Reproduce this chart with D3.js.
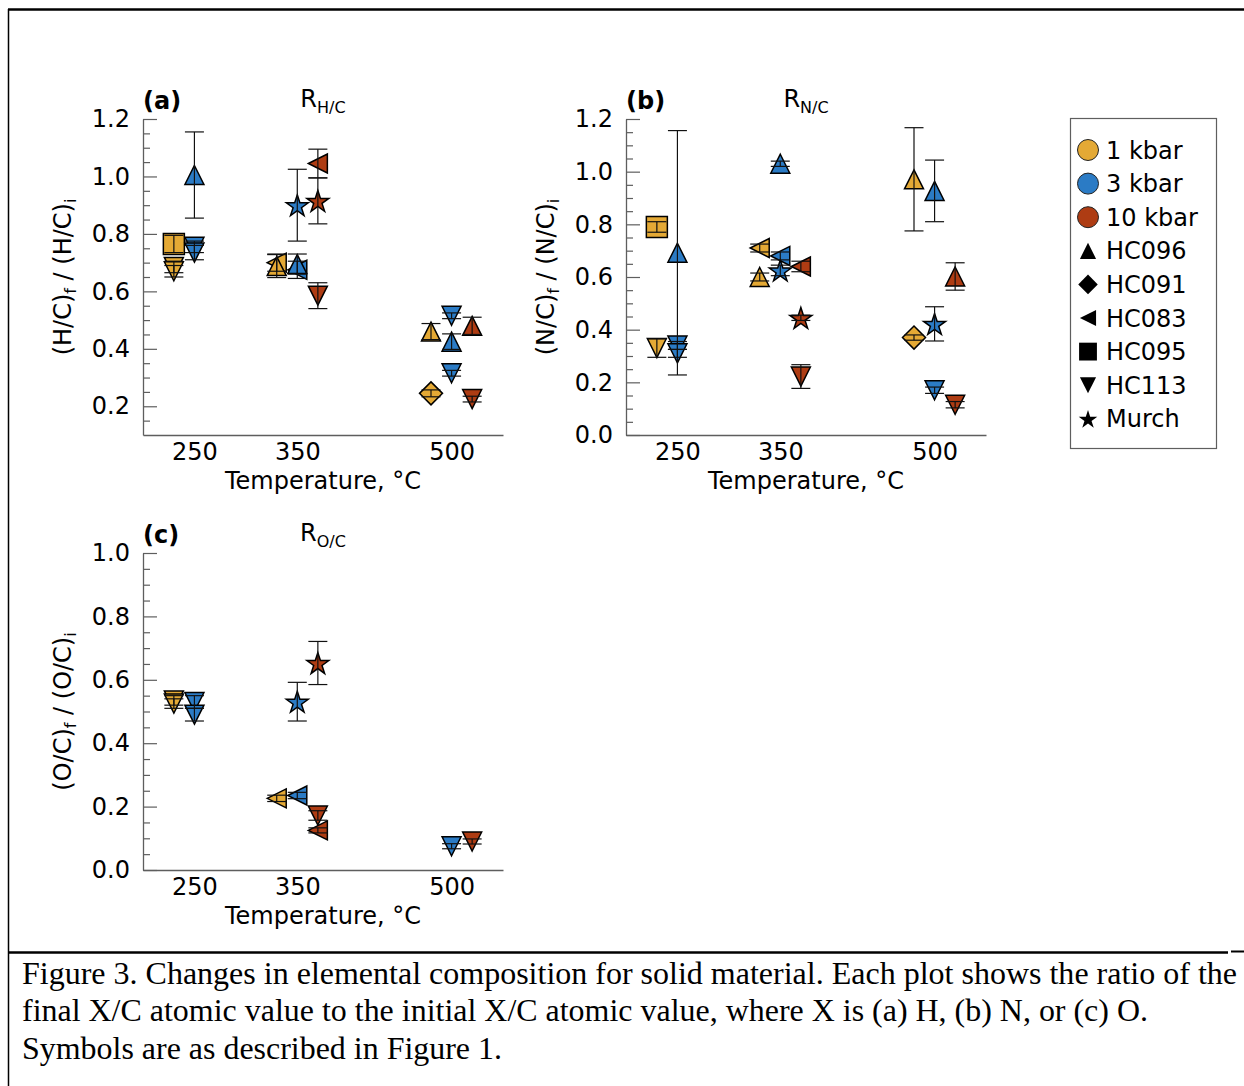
<!DOCTYPE html>
<html>
<head>
<meta charset="utf-8">
<script src="https://cdn.jsdelivr.net/npm/d3@7"></script>
<style>
  html, body { margin: 0; padding: 0; background: #fff; }
  svg { display: block; }
  text { font-family: "DejaVu Sans", sans-serif; fill: #000; }
</style>
</head>
<body>
<svg id="fig" width="1244" height="1086"></svg>
<script>
// ---- Data -------------------------------------------------------------
const pressures = ["1 kbar", "3 kbar", "10 kbar"];
const samples = ["HC096", "HC091", "HC083", "HC095", "HC113", "Murch"];
const tempTicks = [250, 350, 500];

// rows: [temperature °C, pressure, sample, ratio, error]
const ratioHC = [
  [250, "1 kbar", "HC095", 0.765, 0.03],
  [250, "1 kbar", "HC113", 0.685, 0.02],
  [250, "1 kbar", "HC113", 0.670, 0.02],
  [250, "3 kbar", "HC096", 1.005, 0.15],
  [250, "3 kbar", "HC113", 0.755, 0.02],
  [250, "3 kbar", "HC113", 0.735, 0.025],
  [350, "1 kbar", "HC083", 0.700, 0.03],
  [350, "1 kbar", "HC096", 0.688, 0.04],
  [350, "3 kbar", "HC083", 0.675, 0.03],
  [350, "3 kbar", "HC096", 0.695, 0.035],
  [350, "3 kbar", "Murch", 0.900, 0.125],
  [350, "10 kbar", "HC083", 1.045, 0.05],
  [350, "10 kbar", "Murch", 0.915, 0.08],
  [350, "10 kbar", "HC113", 0.585, 0.045],
  [500, "1 kbar", "HC096", 0.460, 0.028],
  [500, "1 kbar", "HC091", 0.245, 0.012],
  [500, "3 kbar", "HC113", 0.515, 0.01],
  [500, "3 kbar", "HC096", 0.425, 0.027],
  [500, "3 kbar", "HC113", 0.315, 0.01],
  [500, "10 kbar", "HC096", 0.480, 0.03],
  [500, "10 kbar", "HC113", 0.225, 0.01]
];

const ratioNC = [
  [250, "1 kbar", "HC095", 0.790, 0.02],
  [250, "1 kbar", "HC113", 0.330, 0.035],
  [250, "3 kbar", "HC096", 0.692, 0.464],
  [250, "3 kbar", "HC113", 0.340, 0.015],
  [250, "3 kbar", "HC113", 0.310, 0.015],
  [350, "1 kbar", "HC083", 0.710, 0.015],
  [350, "1 kbar", "HC096", 0.600, 0.015],
  [350, "3 kbar", "HC096", 1.030, 0.01],
  [350, "3 kbar", "HC083", 0.680, 0.015],
  [350, "3 kbar", "Murch", 0.625, 0.02],
  [350, "10 kbar", "HC083", 0.640, 0.02],
  [350, "10 kbar", "Murch", 0.445, 0.01],
  [350, "10 kbar", "HC113", 0.222, 0.045],
  [500, "1 kbar", "HC096", 0.971, 0.196],
  [500, "1 kbar", "HC091", 0.370, 0.01],
  [500, "3 kbar", "HC096", 0.927, 0.117],
  [500, "3 kbar", "Murch", 0.422, 0.065],
  [500, "3 kbar", "HC113", 0.170, 0.012],
  [500, "10 kbar", "HC096", 0.602, 0.052],
  [500, "10 kbar", "HC113", 0.115, 0.012]
];

const ratioOC = [
  [250, "1 kbar", "HC113", 0.535, 0.015],
  [250, "1 kbar", "HC113", 0.525, 0.015],
  [250, "3 kbar", "HC113", 0.530, 0.02],
  [250, "3 kbar", "HC113", 0.490, 0.02],
  [350, "1 kbar", "HC083", 0.226, 0.01],
  [350, "3 kbar", "HC083", 0.235, 0.01],
  [350, "3 kbar", "Murch", 0.531, 0.061],
  [350, "10 kbar", "Murch", 0.653, 0.068],
  [350, "10 kbar", "HC113", 0.172, 0.015],
  [350, "10 kbar", "HC083", 0.125, 0.008],
  [500, "3 kbar", "HC113", 0.075, 0.008],
  [500, "10 kbar", "HC113", 0.090, 0.008]
];

const captionLines = [
  "Figure 3. Changes in elemental composition for solid material. Each plot shows the ratio of the",
  "final X/C atomic value to the initial X/C atomic value, where X is (a) H, (b) N, or (c) O.",
  "Symbols are as described in Figure 1."
];

// ---- Styling ----------------------------------------------------------
const pressureColor = { "1 kbar": "#E4A935", "3 kbar": "#2B7BC5", "10 kbar": "#AE3C13" };
// horizontal dodge (in °C) so the three pressures sit side by side
const pressureDodge = { "1 kbar": -20, "3 kbar": 0, "10 kbar": 20 };
const spineColor = "#5e5e5e";
const fontSize = "24px";

function starPath(R) {
  const r = R * 0.382;
  const pts = [];
  for (let i = 0; i < 10; i++) {
    const rad = i % 2 === 0 ? R : r;
    const a = -Math.PI / 2 + i * Math.PI / 5;
    pts.push([rad * Math.cos(a), rad * Math.sin(a) + R * 0.1]);
  }
  return "M" + pts.map(p => p[0].toFixed(2) + "," + p[1].toFixed(2)).join("L") + "Z";
}

function markerPath(sample, k = 1) {
  const h = 9.5 * k;
  switch (sample) {
    case "HC096": return `M0,${-h}L${h},${h}L${-h},${h}Z`;
    case "HC113": return `M0,${h}L${h},${-h}L${-h},${-h}Z`;
    case "HC083": return `M${-h},0L${h},${-h}L${h},${h}Z`;
    case "HC095": { const s = 10.5 * k; return `M${-s},${-s}L${s},${-s}L${s},${s}L${-s},${s}Z`; }
    case "HC091": { const s = 11.5 * k; return `M0,${-s}L${s},0L0,${s}L${-s},0Z`; }
    case "Murch": return starPath(11.5 * k);
  }
}

const svg = d3.select("#fig");

// ---- Frame and caption -----------------------------------------------
svg.append("line").attr("x1", 8).attr("x2", 1244).attr("y1", 9.5).attr("y2", 9.5)
  .attr("stroke", "#000").attr("stroke-width", 2.5);
svg.append("line").attr("x1", 8.5).attr("x2", 8.5).attr("y1", 9).attr("y2", 1086)
  .attr("stroke", "#000").attr("stroke-width", 1.5);
svg.append("line").attr("x1", 8).attr("x2", 1228).attr("y1", 952.5).attr("y2", 952.5)
  .attr("stroke", "#000").attr("stroke-width", 2.5);
svg.append("line").attr("x1", 1231).attr("x2", 1244).attr("y1", 951.5).attr("y2", 951.5)
  .attr("stroke", "#000").attr("stroke-width", 2);

const capWidths = [1215, 1126, 480];
svg.append("g").selectAll("text").data(captionLines).join("text")
  .attr("x", 22)
  .attr("y", (d, i) => 984 + i * 37.3)
  .attr("textLength", (d, i) => capWidths[i])
  .attr("lengthAdjust", "spacingAndGlyphs")
  .style("font-family", "'Liberation Serif', 'Times New Roman', serif")
  .style("font-size", "31px")
  .text(d => d);

// ---- Panels -----------------------------------------------------------
const panels = [
  { tag: "(a)", el: "H", data: ratioHC, left: 143, right: 503, top: 119, bottom: 435, yDomain: [0.1, 1.2], yMax: 1.2 },
  { tag: "(b)", el: "N", data: ratioNC, left: 626, right: 986, top: 119, bottom: 435, yDomain: [0, 1.2], yMax: 1.2 },
  { tag: "(c)", el: "O", data: ratioOC, left: 143, right: 503, top: 553, bottom: 870, yDomain: [0, 1.0], yMax: 1.0 }
];

panels.forEach(p => {
  const g = svg.append("g");
  const x = d3.scaleLinear().domain([200, 550]).range([p.left, p.right]);
  const y = d3.scaleLinear().domain(p.yDomain).range([p.bottom, p.top]);

  const majors = d3.range(0, p.yMax + 1e-9, 0.2).filter(v => v >= p.yDomain[0] - 1e-9);
  const minors = d3.range(0, p.yMax + 1e-9, 0.05)
    .filter(v => v > p.yDomain[0] + 1e-9 && Math.abs(v / 0.2 - Math.round(v / 0.2)) > 1e-6);

  // minor ticks (inward)
  const yMinor = g.append("g").attr("transform", `translate(${p.left},0)`)
    .call(d3.axisLeft(y).tickValues(minors).tickSize(-7).tickSizeOuter(0).tickFormat(""));
  yMinor.select(".domain").remove();
  yMinor.selectAll("line").attr("stroke", spineColor).attr("stroke-width", 1.2);

  // major ticks with labels
  const yMajor = g.append("g").attr("transform", `translate(${p.left},0)`)
    .call(d3.axisLeft(y).tickValues(majors).tickSize(-14).tickSizeOuter(0).tickPadding(13)
      .tickFormat(d3.format(".1f")));
  yMajor.select(".domain").attr("stroke", spineColor).attr("stroke-width", 1.3);
  yMajor.selectAll("line").attr("stroke", spineColor).attr("stroke-width", 1.2);
  yMajor.selectAll("text").style("font-family", "'DejaVu Sans', sans-serif").style("font-size", fontSize).attr("fill", "#000");

  // bottom axis
  const xAx = g.append("g").attr("transform", `translate(0,${p.bottom})`)
    .call(d3.axisBottom(x).tickValues(tempTicks).tickSize(0).tickSizeOuter(0).tickPadding(8));
  xAx.select(".domain").attr("stroke", spineColor).attr("stroke-width", 1.3);
  xAx.selectAll("text").style("font-family", "'DejaVu Sans', sans-serif").style("font-size", fontSize).attr("fill", "#000");

  // axis titles
  g.append("text")
    .attr("x", (p.left + p.right) / 2).attr("y", p.bottom + 54)
    .attr("text-anchor", "middle").style("font-size", fontSize)
    .text("Temperature, °C");

  const yl = g.append("text")
    .attr("transform", `translate(${p.left - 72},${(p.top + p.bottom) / 2}) rotate(-90)`)
    .attr("text-anchor", "middle").style("font-size", fontSize);
  yl.append("tspan").text(`(${p.el}/C)`);
  yl.append("tspan").attr("dy", 5).style("font-size", "16px").text("f");
  yl.append("tspan").attr("dy", -5).text(` / (${p.el}/C)`);
  yl.append("tspan").attr("dy", 5).style("font-size", "16px").text("i");

  // panel tag and ratio title
  g.append("text").attr("x", p.left).attr("y", p.top - 10)
    .style("font-weight", "bold").style("font-size", fontSize).text(p.tag);
  const tt = g.append("text").attr("x", (p.left + p.right) / 2).attr("y", p.top - 12)
    .attr("text-anchor", "middle").style("font-size", fontSize);
  tt.append("tspan").text("R");
  tt.append("tspan").attr("dy", 6).style("font-size", "16px").text(`${p.el}/C`);

  const rows = p.data.map(r => ({ t: r[0], pr: r[1], s: r[2], v: r[3], e: r[4] }));
  const px = d => x(d.t + pressureDodge[d.pr]);

  // markers
  g.append("g").selectAll("path").data(rows).join("path")
    .attr("transform", d => `translate(${px(d)},${y(d.v)})`)
    .attr("d", d => markerPath(d.s))
    .attr("fill", d => pressureColor[d.pr])
    .attr("stroke", "#000").attr("stroke-width", 1.5).attr("stroke-linejoin", "miter");

  // error bars drawn over the markers
  const eb = g.append("g").attr("stroke", "#111").attr("stroke-width", 1.2).attr("fill", "none");
  const ebs = eb.selectAll("g").data(rows).join("g");
  ebs.append("line")
    .attr("x1", px).attr("x2", px)
    .attr("y1", d => y(d.v - d.e)).attr("y2", d => y(d.v + d.e));
  [-1, 1].forEach(sgn => {
    ebs.append("line")
      .attr("x1", d => px(d) - 9.5).attr("x2", d => px(d) + 9.5)
      .attr("y1", d => y(d.v + sgn * d.e)).attr("y2", d => y(d.v + sgn * d.e));
  });
});

// ---- Legend -----------------------------------------------------------
const legend = svg.append("g");
legend.append("rect").attr("x", 1070.5).attr("y", 118.5).attr("width", 146).attr("height", 330)
  .attr("fill", "#fff").attr("stroke", spineColor).attr("stroke-width", 1.2);

const legendItems = pressures.map(pr => ({ label: pr, kind: "pressure" }))
  .concat(samples.map(s => ({ label: s, kind: "sample" })));

const li = legend.selectAll("g.item").data(legendItems).join("g")
  .attr("class", "item")
  .attr("transform", (d, i) => `translate(1088,${150 + i * 33.6})`);

li.filter(d => d.kind === "pressure").append("circle")
  .attr("r", 10.5).attr("fill", d => pressureColor[d.label])
  .attr("stroke", "#222").attr("stroke-width", 1);
li.filter(d => d.kind === "sample").append("path")
  .attr("d", d => markerPath(d.label, 0.85)).attr("fill", "#000");
li.append("text").attr("x", 18).attr("y", 8.5).style("font-size", fontSize).text(d => d.label);
</script>
</body>
</html>
